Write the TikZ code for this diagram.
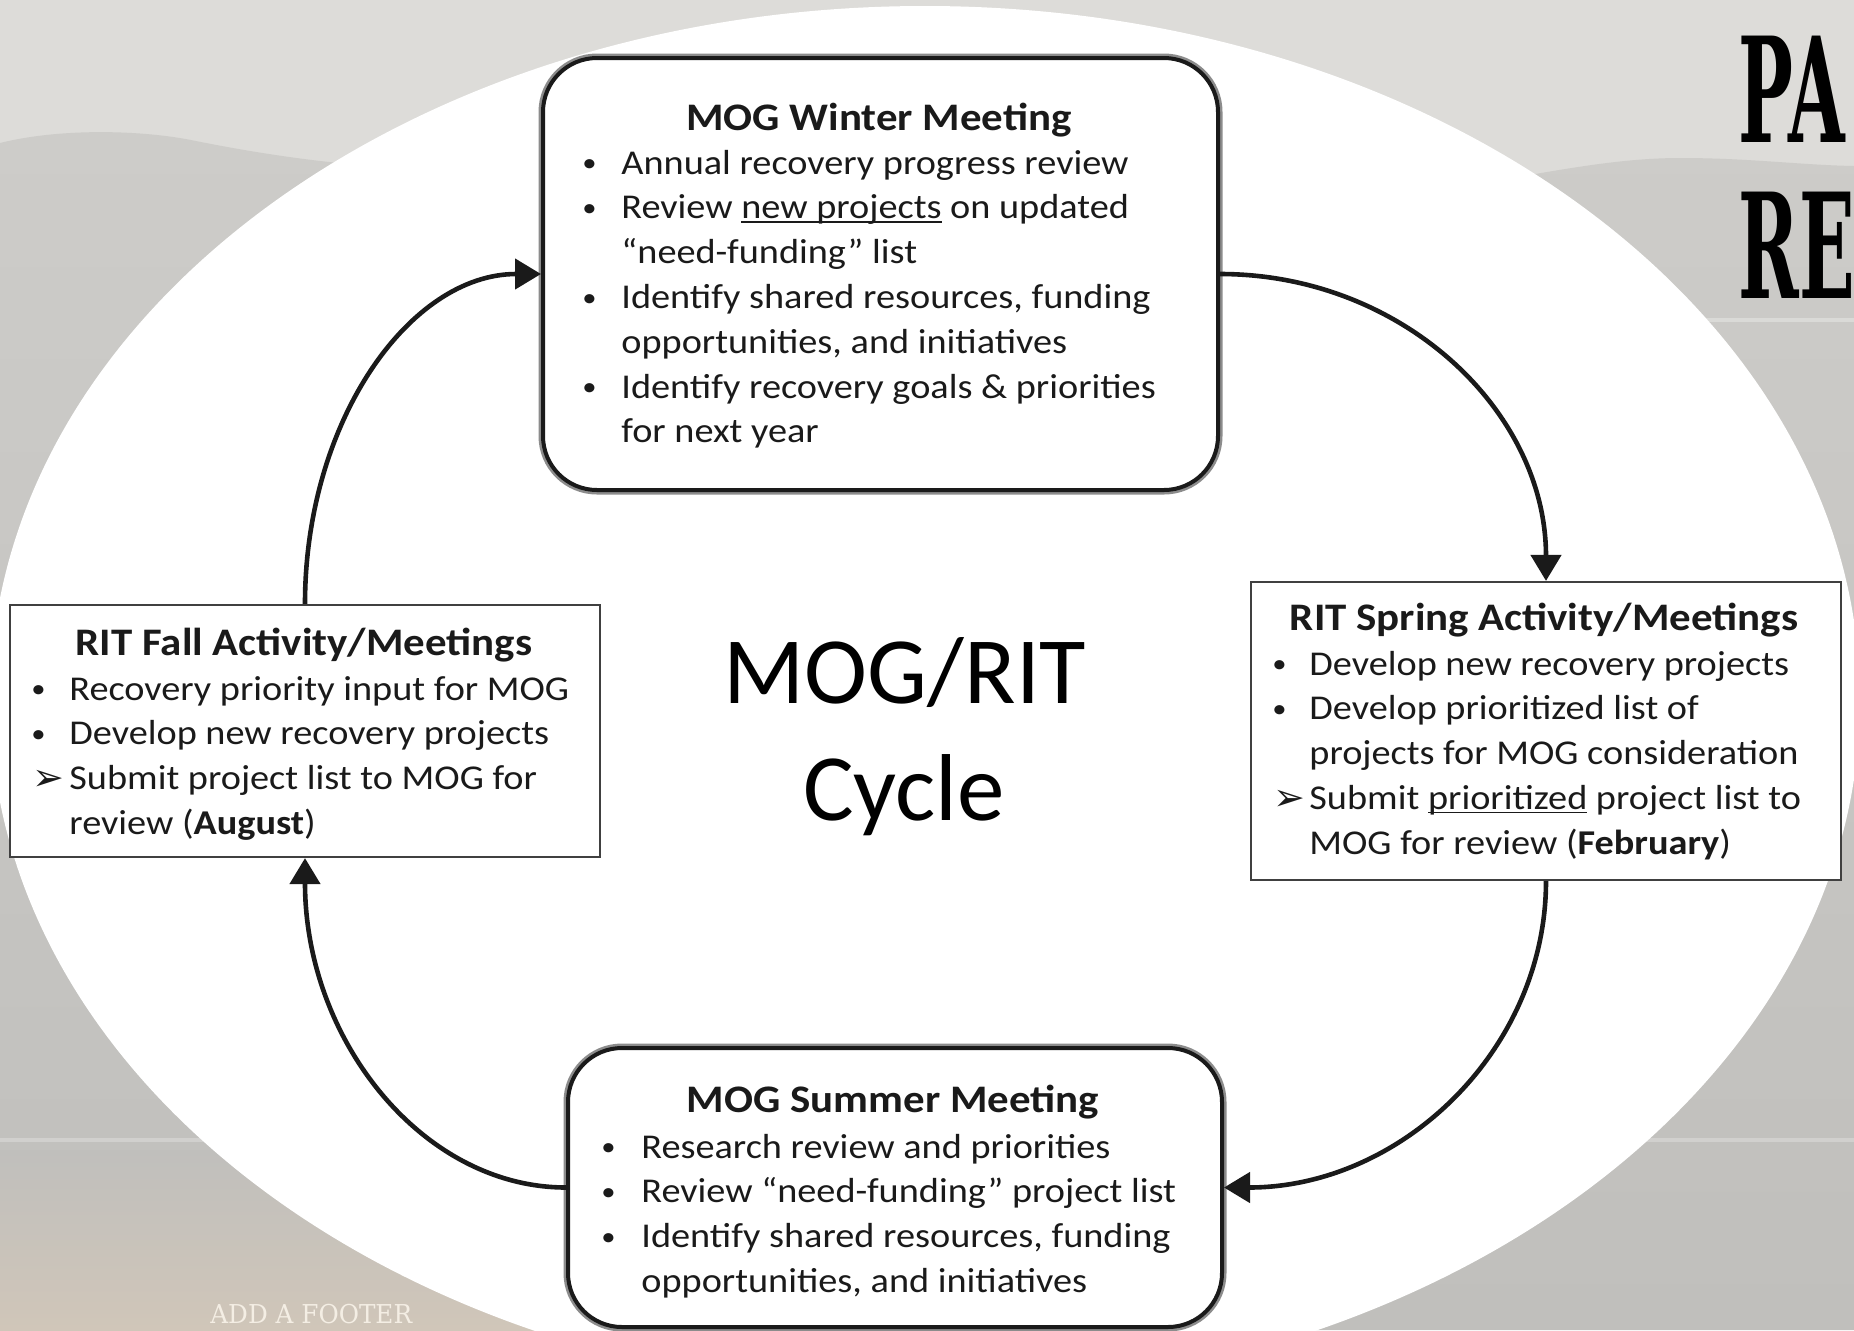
\documentclass[tikz,border=0pt]{standalone}
\usepackage{fontspec}
\setmainfont{Carlito}
\newfontfamily\bodyfont{Carlito}[FakeStretch=1.1]
\newfontfamily\symfont{DejaVu Sans}
\newfontfamily\slabfont{DejaVu Serif}[FakeStretch=0.5]
\newfontfamily\footfont{DejaVu Serif}[FakeStretch=0.95]
\usetikzlibrary{arrows.meta}

\definecolor{ink}{HTML}{1A1A1A}
\definecolor{bglight}{HTML}{DDDCD9}
\definecolor{bgmid}{HTML}{CDCCC9}
\definecolor{bgdark}{HTML}{C0BFBC}
\definecolor{beige}{HTML}{D0C6B9}
\definecolor{footc}{HTML}{F4EEE4}

\newcommand\blt{\makebox[0pt]{\raisebox{1.2pt}{\fontsize{13}{13}\selectfont •}}}
\newcommand\arw{\makebox[0pt][l]{\hspace{-3pt}\raisebox{-0.5pt}{\symfont\fontsize{19}{19}\selectfont ➢}}}
\newcommand\uln[1]{{\setbox0\hbox{#1}\rlap{\rule[-2pt]{\wd0}{0.9pt}}\box0}}

\begin{document}
\begin{tikzpicture}[x=0.5pt,y=-0.5pt,
  roundbox/.style={draw=ink, line width=2pt, rounded corners=27pt, fill=white, inner sep=0pt,
                   preaction={draw=black!45, line width=4.5pt}},
  sqbox/.style={draw=black!75, line width=1.1pt, fill=white, inner sep=0pt},
  boxtitle/.style={font={\bodyfont\bfseries\fontsize{19.5}{22.4}\selectfont}, text=ink, inner sep=0pt, anchor=base},
  boxlist/.style={font={\bodyfont\fontsize{17.4}{22.4}\selectfont}, text=ink, inner sep=0pt, anchor=base west},
  conn/.style={draw=ink, line width=2.3pt, -{Triangle[width=15pt,length=13pt]}},
  bigtext/.style={font={\fontsize{47.5}{56}\selectfont}, text=black, inner sep=0pt, anchor=base},
  slab/.style={font={\slabfont\bfseries\fontsize{73}{73}\selectfont}, text=black, inner sep=0pt, anchor=base west},
]
\useasboundingbox (0,0) rectangle (1854,1330);
\clip (0,0) rectangle (1854,1330);

% background
\fill[bglight] (0,0) rectangle (1854,1330);
\shade[top color=bgmid, bottom color=bgdark]
  (0,143) .. controls (60,128) and (140,130) .. (191,140)
  .. controls (240,150) and (300,160) .. (360,165) -- (1500,180)
  .. controls (1560,170) and (1620,158) .. (1680,158)
  .. controls (1750,158) and (1800,165) .. (1854,166)
  -- (1854,1330) -- (0,1330) -- cycle;
\shade[top color=bgdark, bottom color=beige] (0,1150) rectangle (600,1330);
\draw[white, opacity=0.25, line width=2pt] (0,1140) -- (1854,1140);
\draw[white, opacity=0.3, line width=2pt] (1690,320) -- (1854,320);

% white ellipse
\fill[white] (925,700) ellipse [x radius=467.5pt, y radius=347pt];

% title letters at top right
\node[slab] (pa) at (1738,142) {PA};
\node[slab] (re) at (1738,298) {RE};

% footer
\node[font={\footfont\fontsize{13}{13}\selectfont}, text=footc, inner sep=0pt, anchor=base west] (footer) at (210,1323) {ADD A FOOTER};

% boxes
\node[roundbox, minimum width=337.5pt, minimum height=216pt] (winter) at (880.5,274) {};
\node[sqbox, minimum width=295pt, minimum height=126pt] (fall) at (305,731) {};
\node[sqbox, minimum width=295pt, minimum height=149pt] (spring) at (1546,731) {};
\node[roundbox, minimum width=327pt, minimum height=139.5pt] (summer) at (895,1187.5) {};

% winter text
\node[boxtitle] (wtitle) at (879,130) {MOG Winter Meeting};
\node[boxlist] (wlist) at (589,174) {\begin{tabular}[t]{@{}l@{\hspace{16pt}}l@{}}
\blt & Annual recovery progress review\\
\blt & Review \uln{new projects} on updated\\
     & “need-funding” list\\
\blt & Identify shared resources, funding\\
     & opportunities, and initiatives\\
\blt & Identify recovery goals \& priorities\\
     & for next year
\end{tabular}};

% fall text
\node[boxtitle] (ftitle) at (304,655) {RIT Fall Activity/Meetings};
\node[boxlist] (flist) at (38,700) {\begin{tabular}[t]{@{}l@{\hspace{15.5pt}}l@{}}
\blt & Recovery priority input for MOG\\
\blt & Develop new recovery projects\\
\arw & Submit project list to MOG for\\
     & review (\textbf{August})
\end{tabular}};

% spring text
\node[boxtitle] (stitle) at (1544,630) {RIT Spring Activity/Meetings};
\node[boxlist] (slist) at (1279,675) {\begin{tabular}[t]{@{}l@{\hspace{15pt}}l@{}}
\blt & Develop new recovery projects\\
\blt & Develop prioritized list of\\
     & projects for MOG consideration\\
\arw & Submit \uln{prioritized} project list to\\
     & MOG for review (\textbf{February})
\end{tabular}};

% summer text
\node[boxtitle] (sutitle) at (893,1112) {MOG Summer Meeting};
\node[boxlist] (sulist) at (608,1158) {\begin{tabular}[t]{@{}l@{\hspace{16.5pt}}l@{}}
\blt & Research review and priorities\\
\blt & Review “need-funding” project list\\
\blt & Identify shared resources, funding\\
     & opportunities, and initiatives
\end{tabular}};

% center label
\node[bigtext] (cyc1) at (905,703) {MOG/RIT};
\node[bigtext] (cyc2) at (904,820) {Cycle};

% connectors
\draw[conn] (winter.east) .. controls +(182,0) and +(0,-170) .. (spring.north);
\draw[conn] (spring.south) .. controls +(0,168) and +(178,0) .. (summer.east);
\draw[conn] (summer.west) .. controls +(-144,0) and +(0,181) .. (fall.south);
\draw[conn] (fall.north) .. controls +(0,-183) and +(-131,0) .. (winter.west);
\end{tikzpicture}
\end{document}
